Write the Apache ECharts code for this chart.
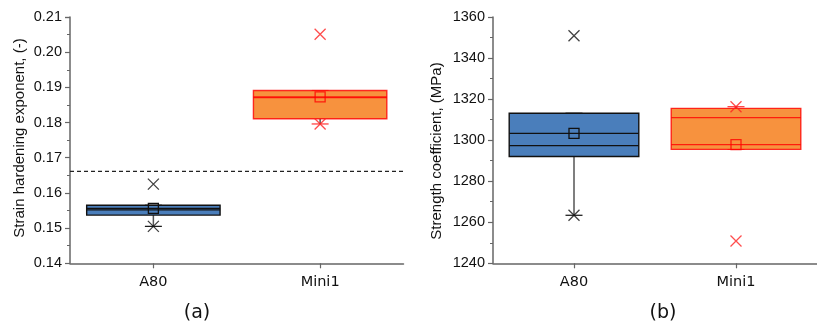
<!DOCTYPE html>
<html>
<head>
<meta charset="utf-8">
<script src="https://cdn.jsdelivr.net/npm/echarts@6/dist/echarts.min.js"></script>
<style>html,body{margin:0;padding:0;background:#fff}#c{width:817px;height:328px}</style>
</head>
<body>
<div id="c"></div>
<script>
// ---- data ----
const categories = ['A80', 'Mini1'];

// (a) strain hardening exponent
const aQ1 = [0.1537, 0.1811];
const aMedian = [0.1552, 0.1871];
const aQ3 = [0.1565, 0.1891];
const aMean = [0.1556, 0.1873];
const aWhiskerLow = [0.1505, 0.1796];
const aWhiskerHigh = [0.1565, 0.1891];
const aMarkHigh = [0.1625, 0.2051];
const aMarkLow = [0.1505, 0.1796];
const aRefLine = [0.1661];
const aTicks = [0.14, 0.15, 0.16, 0.17, 0.18, 0.19, 0.20, 0.21];

// (b) strength coefficient
const bQ1 = [1292.0, 1295.5];
const bMedian = [1297.3, 1311.0];
const bQ3 = [1313.1, 1315.5];
const bMean = [1303.3, 1297.8];
const bWhiskerLow = [1263.4, 1295.5];
const bWhiskerHigh = [1313.1, 1316.3];
const bMarkHigh = [1350.9, 1316.3];
const bMarkLow = [1263.4, 1250.9];
const bTicks = [1240, 1260, 1280, 1300, 1320, 1340, 1360];

// ---- styles ----
const fillColors = ['#4a7ebb', '#f7923e'];
const strokeColors = ['#111111', 'rgba(255,0,0,0.8)'];
const markColors = ['#111111', '#ff2020'];

const chart = echarts.init(document.getElementById('c'), null, {renderer: 'canvas'});

function boxRender(params, api) {
  const i = api.value(0);
  const q1 = api.value(1), med = api.value(2), q3 = api.value(3), mean = api.value(4);
  const wl = api.value(5), wh = api.value(6);
  const bw = api.size([1, 0])[0] * 0.8;
  const cx = api.coord([i, med])[0];
  const y = v => api.coord([i, v])[1];
  const stroke = strokeColors[i];
  const x0 = cx - bw / 2, x1 = cx + bw / 2;
  const capW = 17;
  const lw = 1.4;
  return {
    type: 'group',
    children: [
      {type: 'line', shape: {x1: cx, y1: y(wl), x2: cx, y2: y(q1)}, style: {stroke: '#555', lineWidth: 1.5}},
      {type: 'line', shape: {x1: cx, y1: y(q3), x2: cx, y2: y(wh)}, style: {stroke: '#555', lineWidth: 1.5}},
      {type: 'line', shape: {x1: cx - capW / 2, y1: y(wl), x2: cx + capW / 2, y2: y(wl)}, style: {stroke: stroke, lineWidth: 1.2}},
      {type: 'line', shape: {x1: cx - capW / 2, y1: y(wh), x2: cx + capW / 2, y2: y(wh)}, style: {stroke: stroke, lineWidth: 1.2}},
      {type: 'rect', shape: {x: x0, y: y(q3), width: bw, height: y(q1) - y(q3)}, style: {fill: fillColors[i], stroke: stroke, lineWidth: lw}},
      {type: 'line', shape: {x1: x0, y1: y(med), x2: x1, y2: y(med)}, style: {stroke: stroke, lineWidth: 1.2}},
      {type: 'line', shape: {x1: x0, y1: y(mean), x2: x1, y2: y(mean)}, style: {stroke: stroke, lineWidth: 1.2}},
      {type: 'rect', shape: {x: cx - 5, y: y(mean) - 5, width: 10, height: 10}, style: {fill: 'none', stroke: stroke, lineWidth: 1.3}}
    ]
  };
}

function refLineRender(params, api) {
  const cs = params.coordSys;
  const yy = api.coord([0, api.value(1)])[1];
  return {type: 'line', shape: {x1: cs.x, y1: yy, x2: cs.x + cs.width, y2: yy},
    style: {stroke: '#222', lineWidth: 1.2, lineDash: [4, 3]}};
}

const xSym = 'path://M0,0L10,10M10,0L0,10';

function markData(arr) {
  return categories.map((c, i) => ({value: [i, arr[i]], itemStyle: {borderColor: markColors[i]}}));
}

function yAxisCfg(gridIndex, ticks, fmt) {
  return {
    type: 'value', gridIndex: gridIndex,
    min: ticks[0], max: ticks[ticks.length - 1], interval: ticks[1] - ticks[0],
    axisLine: {show: true, lineStyle: {color: '#666', width: 1.5}},
    axisTick: {show: true, length: 5, lineStyle: {color: '#666', width: 1.2}},
    minorTick: {show: true, splitNumber: 2, length: 3, lineStyle: {color: '#666', width: 1}},
    splitLine: {show: false},
    axisLabel: {color: '#111', fontFamily: 'Liberation Sans', fontSize: 14.5, margin: 8, formatter: fmt}
  };
}

function xAxisCfg(gridIndex) {
  return {
    type: 'category', gridIndex: gridIndex, data: categories, boundaryGap: true,
    axisLine: {show: true, lineStyle: {color: '#666', width: 1.5}},
    axisTick: {show: true, alignWithLabel: true, length: 5, lineStyle: {color: '#666', width: 1.2}},
    axisLabel: {color: '#111', fontFamily: 'DejaVu Sans', fontSize: 14.5, margin: 11}
  };
}

function titleText(x, y, text, size, rot) {
  return {type: 'text', x: x, y: y, rotation: rot,
    style: {text: text, fill: '#111', fontFamily: size > 16 ? 'DejaVu Sans' : 'Liberation Sans', fontSize: size,
      align: 'center', verticalAlign: 'middle'}};
}

const option = {
  animation: false,
  backgroundColor: '#fff',
  grid: [
    {left: 70, top: 17, width: 333.5, height: 246.3},
    {left: 493, top: 17, width: 334, height: 246.3}
  ],
  xAxis: [xAxisCfg(0), xAxisCfg(1)],
  yAxis: [
    yAxisCfg(0, aTicks, v => v.toFixed(2)),
    yAxisCfg(1, bTicks, v => String(Math.round(v)))
  ],
  graphic: [
    titleText(20, 138, 'Strain hardening exponent, (-)', 15, Math.PI / 2),
    titleText(437, 151, 'Strength coefficient, (MPa)', 15, Math.PI / 2),
    titleText(197, 313, '(a)', 19, 0),
    titleText(663, 313, '(b)', 19, 0)
  ],
  series: [
    {
      type: 'custom', xAxisIndex: 0, yAxisIndex: 0, renderItem: refLineRender, z: 1,
      data: aRefLine.map(v => [0, v])
    },
    {
      type: 'custom', xAxisIndex: 0, yAxisIndex: 0, renderItem: boxRender, z: 2,
      data: categories.map((c, i) => [i, aQ1[i], aMedian[i], aQ3[i], aMean[i], aWhiskerLow[i], aWhiskerHigh[i]])
    },
    {
      type: 'custom', xAxisIndex: 1, yAxisIndex: 1, renderItem: boxRender, z: 2,
      data: categories.map((c, i) => [i, bQ1[i], bMedian[i], bQ3[i], bMean[i], bWhiskerLow[i], bWhiskerHigh[i]])
    },
    {type: 'scatter', xAxisIndex: 0, yAxisIndex: 0, symbol: xSym, symbolSize: 11, z: 5,
      itemStyle: {color: 'transparent', borderWidth: 1.3}, data: markData(aMarkHigh).concat(markData(aMarkLow))},
    {type: 'scatter', xAxisIndex: 1, yAxisIndex: 1, symbol: xSym, symbolSize: 11, z: 5,
      itemStyle: {color: 'transparent', borderWidth: 1.3}, data: markData(bMarkHigh).concat(markData(bMarkLow))}
  ]
};
chart.setOption(option);
</script>
</body>
</html>
